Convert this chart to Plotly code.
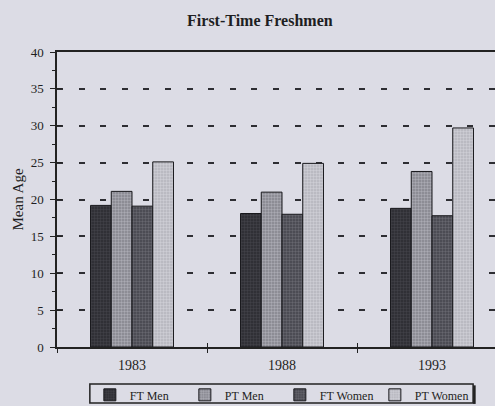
import plotly.graph_objects as go

years = ["1983", "1988", "1993"]
ft_men = [19.2, 18.1, 18.8]
pt_men = [21.1, 21.0, 23.8]
ft_women = [19.1, 18.0, 17.8]
pt_women = [25.1, 24.9, 29.7]
series_names = ["FT Men", "PT Men", "FT Women", "PT Women"]
y_ticks = [0, 5, 10, 15, 20, 25, 30, 35, 40]

BG = "#dcdce5"
FONT = "Liberation Serif"
INK = "#1e1e22"

styles = [
    dict(bg="#2a2a30", fg="#55555d"),
    dict(bg="#84848c", fg="#d0d0d8"),
    dict(bg="#42424a", fg="#8a8a92"),
    dict(bg="#b4b4bc", fg="#e6e6ee"),
]

fig = go.Figure()
for name, vals, st in zip(series_names, [ft_men, pt_men, ft_women, pt_women], styles):
    fig.add_trace(go.Bar(
        x=years, y=vals, name=name,
        marker=dict(color=st["bg"], line=dict(color="#18181c", width=1),
                    pattern=dict(shape=".", fgcolor=st["fg"], bgcolor=st["bg"],
                                 size=3, solidity=0.5)),
    ))

# invisible helper trace for the inner halves of crossing ticks
fig.add_trace(go.Scatter(x=[0], y=[0], xaxis="x2", yaxis="y2", mode="markers",
                         marker=dict(opacity=0), showlegend=False, hoverinfo="skip"))

# legend frame (box with a heavier right edge like the original's shadow)
fig.add_shape(type="rect", xref="paper", yref="paper", x0=0.075, x1=0.95,
              y0=-0.19, y1=-0.125, line=dict(color="#222", width=1.5))
fig.add_shape(type="line", xref="paper", yref="paper", x0=0.953, x1=0.953,
              y0=-0.193, y1=-0.13, line=dict(color="#222", width=2.5))

fig.update_layout(
    width=495, height=406,
    paper_bgcolor=BG, plot_bgcolor=BG,
    margin=dict(l=57, r=0, t=52, b=59, autoexpand=False),
    barmode="group", bargap=0.447, bargroupgap=0,
    font=dict(family=FONT, color=INK, size=12),
    title=dict(text="<b>First-Time Freshmen</b>", x=0.525, xanchor="center",
               y=0.95, yanchor="middle", xref="container", yref="container",
               font=dict(family=FONT, size=16, color=INK)),
    xaxis=dict(type="category", range=[-0.5, 2.42], showgrid=False,
               showline=True, linecolor="#222", linewidth=1.5, mirror=True,
               ticks="outside", tickson="boundaries", ticklen=4, tickcolor="#222",
               ticklabelstandoff=4,
               tickfont=dict(family=FONT, size=14, color=INK)),
    yaxis=dict(range=[0, 40], tickvals=y_ticks, showgrid=True,
               gridcolor="#2e2e33", gridwidth=2, griddash="6px,15.6px",
               showline=True, linecolor="#222", linewidth=1.5,
               ticks="outside", ticklen=5, tickcolor="#222", ticklabelstandoff=4,
               minor=dict(dtick=2.5, ticks="outside", ticklen=3, tickcolor="#222", showgrid=False),
               zeroline=False,
               tickfont=dict(family=FONT, size=13, color=INK),
               title=dict(text="Mean Age", font=dict(family=FONT, size=15, color=INK), standoff=3)),
    xaxis2=dict(overlaying="x", range=[-0.5, 2.42], tickvals=[0.5, 1.5],
                ticks="inside", ticklen=4, tickcolor="#222", showticklabels=False,
                showgrid=False, zeroline=False, showline=False, anchor="y2"),
    yaxis2=dict(overlaying="y", range=[0, 40], tickvals=y_ticks, side="left",
                ticks="inside", ticklen=5, tickcolor="#222", showticklabels=False,
                showgrid=False, zeroline=False, showline=False, anchor="x2"),
    legend=dict(orientation="h", x=0.075, xanchor="left", y=-0.113, yanchor="top",
                bgcolor="rgba(0,0,0,0)", borderwidth=0,
                entrywidth=50, entrywidthmode="pixels", itemwidth=30,
                tracegroupgap=0,
                font=dict(family=FONT, size=12, color=INK), traceorder="normal"),
    showlegend=True,
)

fig.write_html(
    "out.html",
    config={"displayModeBar": False},
    post_script="document.body.style.margin='0';document.body.style.background='#dcdce5';",
)
